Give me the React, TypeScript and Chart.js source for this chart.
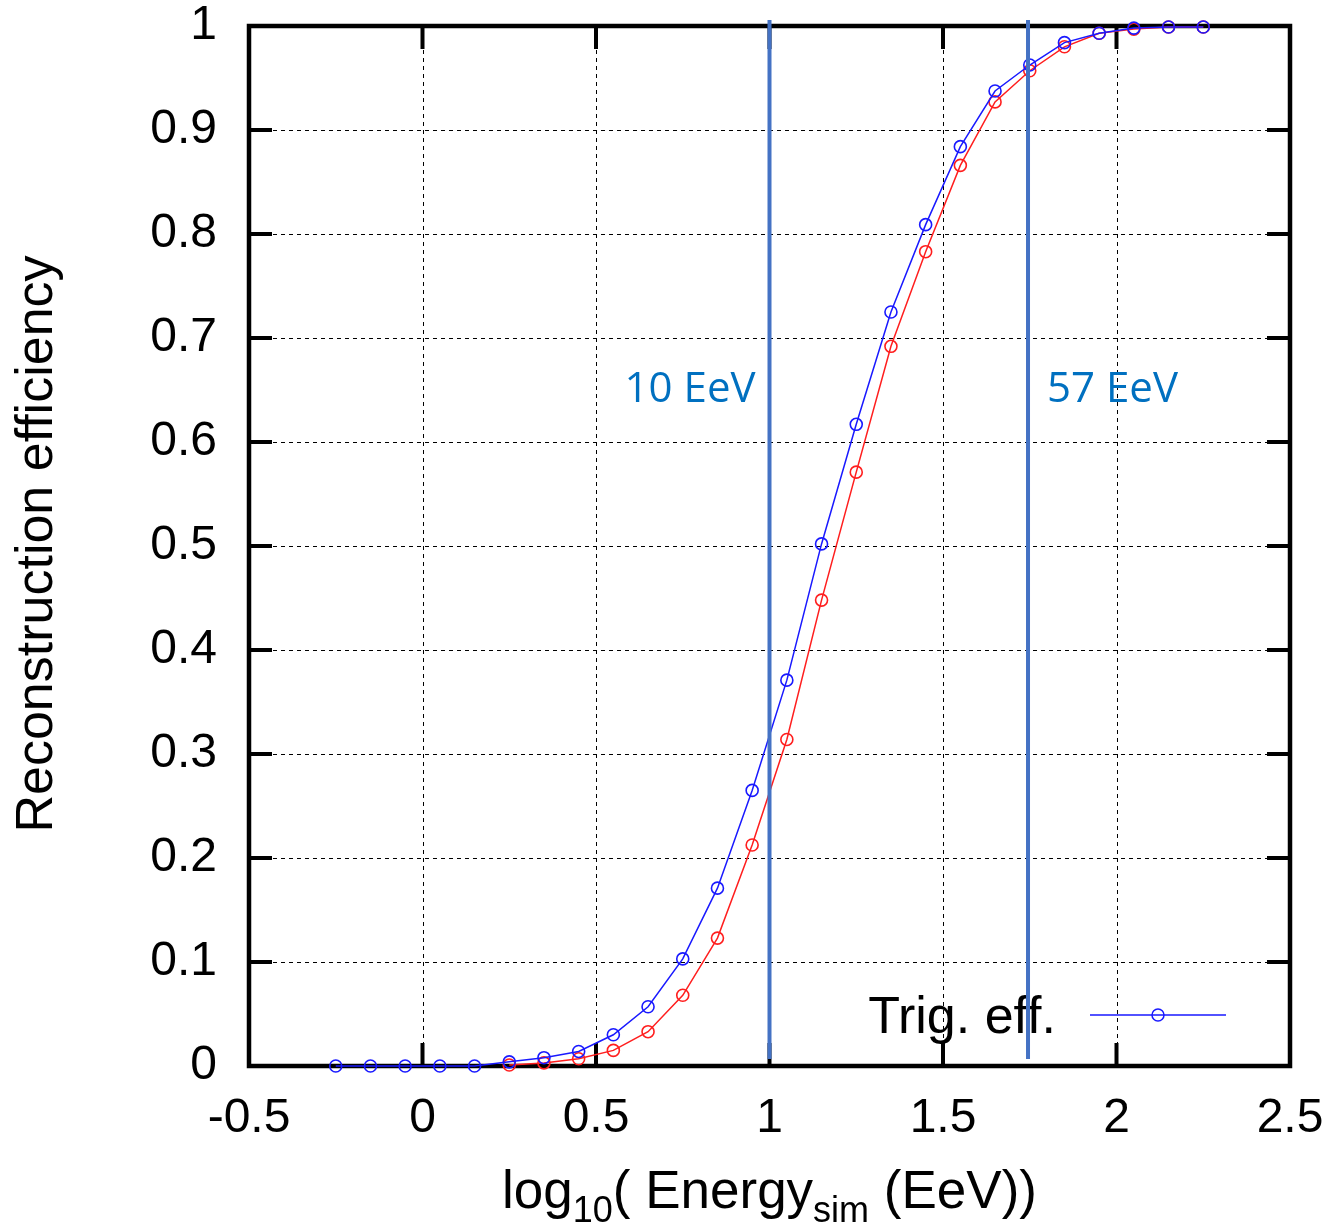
import React, { useEffect, useRef } from "react";
import { Chart, registerables } from "chart.js";

Chart.register(...registerables);

// ---- Data ----
const blueX = [-0.25, -0.15, -0.05, 0.05, 0.15, 0.25, 0.35, 0.45, 0.55, 0.65, 0.75, 0.85, 0.95, 1.05, 1.15, 1.25, 1.35, 1.45, 1.55, 1.65, 1.75, 1.85, 1.95, 2.05, 2.15, 2.25];
const blueY = [0, 0, 0, 0, 0, 0.004, 0.008, 0.014, 0.03, 0.057, 0.103, 0.171, 0.265, 0.371, 0.502, 0.617, 0.725, 0.809, 0.884, 0.9375, 0.9625, 0.984, 0.993, 0.998, 0.999, 0.999];
const redX = [0.25, 0.35, 0.45, 0.55, 0.65, 0.75, 0.85, 0.95, 1.05, 1.15, 1.25, 1.35, 1.45, 1.55, 1.65, 1.75, 1.85, 1.95, 2.05, 2.15, 2.25];
const redY = [0.001, 0.003, 0.007, 0.015, 0.033, 0.068, 0.123, 0.2125, 0.314, 0.448, 0.571, 0.692, 0.783, 0.866, 0.927, 0.957, 0.98, 0.993, 0.997, 0.999, 0.999];

const xTickValues = [-0.5, 0, 0.5, 1, 1.5, 2, 2.5];
const xTickLabels = ["-0.5", "0", "0.5", "1", "1.5", "2", "2.5"];
const yTickValues = [0, 0.1, 0.2, 0.3, 0.4, 0.5, 0.6, 0.7, 0.8, 0.9, 1];
const yTickLabels = ["0", "0.1", "0.2", "0.3", "0.4", "0.5", "0.6", "0.7", "0.8", "0.9", "1"];

const markerX = [1, 1.745];
const markerLabels = ["10 EeV", "57 EeV"];
const markerLabelY = 0.65;

const legendLabel = "Trig. eff.";
const yTitle = "Reconstruction efficiency";

const FONT = "'Liberation Sans', Arial, Helvetica, sans-serif";
const BLUE = "rgb(25,25,255)";
const RED = "rgb(255,30,30)";
const MARK = "#4472c4";
const MARK_TEXT = "#0070c0";

const framePlugin = {
  id: "framePlugin",
  beforeDatasetsDraw(chart: any) {
    const { ctx, chartArea: a, scales } = chart;
    const x = scales.x;
    const y = scales.y;
    ctx.save();
    // dashed grid
    ctx.strokeStyle = "#000";
    ctx.lineWidth = 1;
    ctx.setLineDash([4, 4]);
    ctx.beginPath();
    for (const v of xTickValues) {
      const px = Math.round(x.getPixelForValue(v)) + 0.5;
      ctx.moveTo(px, a.top);
      ctx.lineTo(px, a.bottom);
    }
    for (const v of yTickValues) {
      const py = Math.round(y.getPixelForValue(v)) + 0.5;
      ctx.moveTo(a.left, py);
      ctx.lineTo(a.right, py);
    }
    ctx.stroke();
    ctx.setLineDash([]);
    // major ticks (inside, all sides)
    const tl = 23;
    ctx.lineWidth = 4;
    ctx.beginPath();
    for (const v of xTickValues) {
      const px = x.getPixelForValue(v);
      ctx.moveTo(px, a.bottom);
      ctx.lineTo(px, a.bottom - tl);
      ctx.moveTo(px, a.top);
      ctx.lineTo(px, a.top + tl);
    }
    for (const v of yTickValues) {
      const py = y.getPixelForValue(v);
      ctx.moveTo(a.left, py);
      ctx.lineTo(a.left + tl, py);
      ctx.moveTo(a.right, py);
      ctx.lineTo(a.right - tl, py);
    }
    ctx.stroke();
    // frame
    ctx.lineWidth = 4.5;
    ctx.strokeRect(a.left, a.top, a.right - a.left, a.bottom - a.top);
    ctx.restore();
  },
  afterDraw(chart: any) {
    const { ctx, chartArea: a, scales } = chart;
    const x = scales.x;
    const y = scales.y;
    ctx.save();

    // legend
    ctx.fillStyle = "#000";
    ctx.font = `52px ${FONT}`;
    ctx.textAlign = "right";
    ctx.textBaseline = "alphabetic";
    ctx.fillText(legendLabel, a.right - 234, a.bottom - 33);
    const ly = a.bottom - 51;
    ctx.strokeStyle = BLUE;
    ctx.lineWidth = 1.5;
    ctx.beginPath();
    ctx.moveTo(a.right - 200, ly);
    ctx.lineTo(a.right - 64, ly);
    ctx.stroke();
    ctx.beginPath();
    ctx.arc(a.right - 132, ly, 6, 0, Math.PI * 2);
    ctx.stroke();

    // y title
    ctx.save();
    ctx.translate(52, (a.top + a.bottom) / 2 - 2);
    ctx.rotate(-Math.PI / 2);
    ctx.fillStyle = "#000";
    ctx.font = `52px ${FONT}`;
    ctx.textAlign = "center";
    ctx.textBaseline = "alphabetic";
    ctx.fillText(yTitle, 0, 0);
    ctx.restore();

    // x title with subscripts
    const big = `53px ${FONT}`;
    const small = `36px ${FONT}`;
    const parts: [string, string, number][] = [
      ["log", big, 0],
      ["10", small, 14],
      ["( Energy", big, 0],
      ["sim", small, 14],
      [" (EeV))", big, 0],
    ];
    let total = 0;
    for (const [t, f] of parts) {
      ctx.font = f;
      total += ctx.measureText(t).width;
    }
    let cx = (a.left + a.right) / 2 - total / 2;
    const base = 1208;
    ctx.textAlign = "left";
    ctx.fillStyle = "#000";
    for (const [t, f, off] of parts) {
      ctx.font = f;
      ctx.fillText(t, cx, base + off);
      cx += ctx.measureText(t).width;
    }

    // vertical marker lines + labels
    ctx.strokeStyle = MARK;
    ctx.lineWidth = 4;
    ctx.font = `42px 'Open Sans', 'Noto Sans', sans-serif`;
    ctx.fillStyle = MARK_TEXT;
    ctx.textBaseline = "middle";
    markerX.forEach((v, i) => {
      const px = x.getPixelForValue(v);
      ctx.beginPath();
      ctx.moveTo(px, a.top - 6);
      ctx.lineTo(px, a.bottom - 7);
      ctx.stroke();
      const ty = y.getPixelForValue(markerLabelY);
      if (i === 0) {
        ctx.textAlign = "right";
        ctx.fillText(markerLabels[i], px - 14, ty);
      } else {
        ctx.textAlign = "left";
        ctx.fillText(markerLabels[i], px + 19, ty);
      }
    });
    ctx.restore();
  },
};

export default function App() {
  const ref = useRef<HTMLCanvasElement | null>(null);
  useEffect(() => {
    document.body.style.margin = "0";
    const canvas = ref.current;
    if (!canvas) return;
    const chart = new Chart(canvas, {
      type: "line",
      data: {
        datasets: [
          {
            label: legendLabel,
            data: blueX.map((v, i) => ({ x: v, y: blueY[i] })),
            borderColor: BLUE,
            borderWidth: 1.5,
            pointRadius: 6,
            pointBorderWidth: 1.6,
            pointBackgroundColor: "rgba(0,0,0,0)",
            pointBorderColor: BLUE,
            fill: false,
            tension: 0,
            clip: 10,
          },
          {
            label: "Reco. eff.",
            data: redX.map((v, i) => ({ x: v, y: redY[i] })),
            borderColor: RED,
            borderWidth: 1.5,
            pointRadius: 6,
            pointBorderWidth: 1.6,
            pointBackgroundColor: "rgba(0,0,0,0)",
            pointBorderColor: RED,
            fill: false,
            tension: 0,
            clip: 10,
          },
        ],
      },
      options: {
        animation: false,
        responsive: false,
        maintainAspectRatio: false,
        layout: { padding: { left: 0, top: 26, right: 49, bottom: 0 } },
        plugins: { legend: { display: false }, tooltip: { enabled: false } },
        scales: {
          x: {
            type: "linear",
            min: -0.5,
            max: 2.5,
            afterBuildTicks: (s: any) => {
              s.ticks = xTickValues.map((v) => ({ value: v }));
            },
            afterFit: (s: any) => {
              s.height = 158;
              s.paddingLeft = 0;
              s.paddingRight = 0;
              s.paddingTop = 0;
              s.paddingBottom = 0;
            },
            grid: { display: false, drawTicks: false },
            border: { display: false },
            ticks: {
              autoSkip: false,
              maxRotation: 0,
              padding: 29,
              color: "#000",
              font: { family: FONT, size: 48, lineHeight: 1 },
              callback: (_v: any, i: number) => xTickLabels[i],
            },
          },
          y: {
            type: "linear",
            min: 0,
            max: 1,
            afterBuildTicks: (s: any) => {
              s.ticks = yTickValues.map((v) => ({ value: v }));
            },
            afterFit: (s: any) => {
              s.width = 249;
              s.paddingLeft = 0;
              s.paddingRight = 0;
              s.paddingTop = 0;
              s.paddingBottom = 0;
            },
            grid: { display: false, drawTicks: false },
            border: { display: false },
            ticks: {
              autoSkip: false,
              padding: 32,
              color: "#000",
              font: { family: FONT, size: 48, lineHeight: 1 },
              callback: (_v: any, i: number) => yTickLabels[i],
            },
          },
        },
      },
      plugins: [framePlugin],
    } as any);
    return () => chart.destroy();
  }, []);
  return (
    <div style={{ width: 1339, height: 1224, background: "#fff" }}>
      <canvas ref={ref} width={1339} height={1224} style={{ display: "block" }} />
    </div>
  );
}
